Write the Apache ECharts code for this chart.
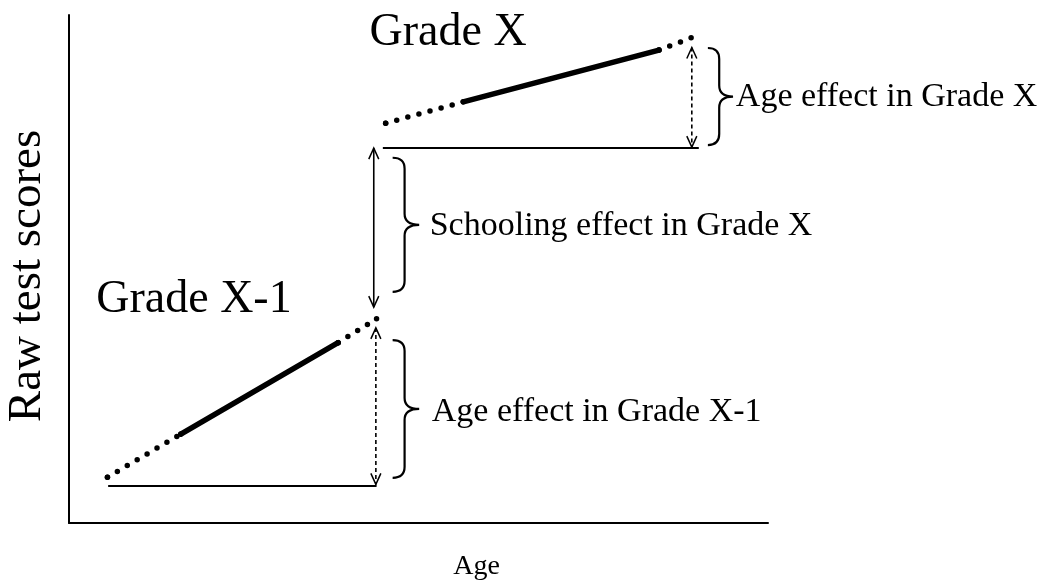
<!DOCTYPE html>
<html>
<head>
<meta charset="utf-8">
<title>Age and schooling effects</title>
<script src="https://cdn.jsdelivr.net/npm/echarts@6/dist/echarts.min.js"></script>
<style>
  html, body { margin: 0; padding: 0; background: #fff; }
  #chart { width: 1050px; height: 583px; }
</style>
</head>
<body>
<div id="chart"></div>
<script>
// grade X-1 line: dotted start, solid middle, dotted end
const lowerAges = [5.5, 16, 38.5, 44];
const lowerScores = [9, 17.5, 35.5, 40.2];
// grade X line
const upperAges = [45.3, 56.4, 84.4, 89];
const upperScores = [78.7, 82.9, 93.1, 95.5];

// horizontal reference lines
const baseAgesLower = [5.6, 44];
const baseScoreLower = 7.3;
const baseAgesUpper = [44.9, 90.1];
const baseScoreUpper = 73.8;

// double arrows (age, low score, high score, dashed?)
const arrowAges = [43.9, 43.6, 89.1];
const arrowLows = [7.6, 42.5, 74];
const arrowHighs = [38.4, 73.8, 93.6];
const arrowDashed = [1, 0, 1];

// braces (left edge, tip, top, bottom)
const braceLefts = [46.3, 46.3, 91.4];
const braceTips = [50.1, 50.1, 95.0];
const braceTops = [36.0, 71.9, 93.5];
const braceBottoms = [8.9, 45.5, 74.4];

// annotations
const noteTexts = ['Grade X', 'Grade X-1', 'Age effect in Grade X', 'Schooling effect in Grade X', 'Age effect in Grade X-1'];
const noteAges = [43.0, 3.9, 95.4, 51.6, 51.9];
const noteScores = [96.5, 43.9, 83.9, 58.5, 21.9];

const FONT = '"Liberation Serif", "DejaVu Serif", serif';

const pairs = (xs, ys) => xs.map((x, i) => [x, ys[i]]);

const dotted = {
  color: '#000',
  width: 5.5,
  type: [0, 11.5],
  cap: 'round',
};

const segment = (ages, scores, from, to, style, withDots) => ({
  type: 'line',
  data: pairs(ages.slice(from, to + 1), scores.slice(from, to + 1)),
  symbol: withDots ? 'circle' : 'none',
  symbolSize: 5.5,
  showSymbol: withDots,
  itemStyle: { color: '#000' },
  lineStyle: style,
  silent: true,
  z: 3,
});

const renderArrow = (params, api) => {
  const top = api.coord([api.value(0), api.value(2)]);
  const bottom = api.coord([api.value(0), api.value(1)]);
  const x = top[0];
  const dash = api.value(3) === 1 ? [4, 3] : null;
  const head = { stroke: '#000', fill: null, lineWidth: 1.5 };
  return {
    type: 'group',
    children: [
      { type: 'line', shape: { x1: x, y1: top[1], x2: x, y2: bottom[1] }, style: { stroke: '#000', lineWidth: 1.6, lineDash: dash } },
      { type: 'polyline', shape: { points: [[x - 5, top[1] + 11], [x, top[1]], [x + 5, top[1] + 11]] }, style: head },
      { type: 'polyline', shape: { points: [[x - 5, bottom[1] - 11], [x, bottom[1]], [x + 5, bottom[1] - 11]] }, style: head },
    ],
  };
};

const renderBrace = (params, api) => {
  const tl = api.coord([api.value(0), api.value(2)]);
  const br = api.coord([api.value(1), api.value(3)]);
  const xl = tl[0], xt = br[0], yt = tl[1], yb = br[1];
  const xv = xl + (xt - xl) * 0.45;
  const ym = (yt + yb) / 2;
  const r = 11;
  const d = `M${xl},${yt} Q${xv},${yt} ${xv},${yt + r} L${xv},${ym - r} Q${xv},${ym} ${xt},${ym}`
    + ` Q${xv},${ym} ${xv},${ym + r} L${xv},${yb - r} Q${xv},${yb} ${xl},${yb}`;
  return {
    type: 'path',
    shape: { pathData: d },
    style: { stroke: '#000', fill: null, lineWidth: 2.2 },
  };
};

const renderNote = (params, api) => {
  const p = api.coord([api.value(0), api.value(1)]);
  const big = params.dataIndex < 2;
  return {
    type: 'text',
    x: p[0],
    y: p[1],
    style: {
      text: noteTexts[params.dataIndex],
      fill: '#000',
      font: `${big ? 46 : 34}px ${FONT}`,
      align: 'left',
      verticalAlign: 'middle',
    },
  };
};

const chart = echarts.init(document.getElementById('chart'), null, { renderer: 'canvas' });

chart.setOption({
  animation: false,
  backgroundColor: '#fff',
  grid: { left: 69, right: 282, top: 15, bottom: 60, outerBoundsMode: 'none', containLabel: false },
  xAxis: {
    type: 'value',
    min: 0,
    max: 100,
    name: 'Age',
    nameLocation: 'middle',
    nameGap: 30,
    nameTextStyle: { color: '#000', fontFamily: FONT, fontSize: 28, padding: [0, 0, 0, 116] },
    axisLine: { show: true, onZero: false, lineStyle: { color: '#000', width: 2 } },
    axisTick: { show: false },
    axisLabel: { show: false },
    splitLine: { show: false },
  },
  yAxis: {
    type: 'value',
    min: 0,
    max: 100,
    name: 'Raw test scores',
    nameLocation: 'middle',
    nameRotate: 90,
    nameGap: 18,
    nameTextStyle: { color: '#000', fontFamily: FONT, fontSize: 47, padding: [0, 14, 0, 0] },
    axisLine: { show: true, onZero: false, lineStyle: { color: '#000', width: 2 } },
    axisTick: { show: false },
    axisLabel: { show: false },
    splitLine: { show: false },
  },
  series: [
    segment(lowerAges, lowerScores, 0, 1, dotted, true),
    segment(lowerAges, lowerScores, 1, 2, { color: '#000', width: 5.5, cap: 'round' }, false),
    segment(lowerAges, lowerScores, 2, 3, dotted, true),
    segment(upperAges, upperScores, 0, 1, dotted, true),
    segment(upperAges, upperScores, 1, 2, { color: '#000', width: 5.5, cap: 'round' }, false),
    segment(upperAges, upperScores, 2, 3, dotted, true),
    segment(baseAgesLower, [baseScoreLower, baseScoreLower], 0, 1, { color: '#000', width: 2 }, false),
    segment(baseAgesUpper, [baseScoreUpper, baseScoreUpper], 0, 1, { color: '#000', width: 2 }, false),
    {
      type: 'custom',
      renderItem: renderArrow,
      data: arrowAges.map((a, i) => [a, arrowLows[i], arrowHighs[i], arrowDashed[i]]),
      silent: true,
      z: 4,
    },
    {
      type: 'custom',
      renderItem: renderBrace,
      data: braceLefts.map((l, i) => [l, braceTips[i], braceTops[i], braceBottoms[i]]),
      silent: true,
      z: 4,
    },
    {
      type: 'custom',
      renderItem: renderNote,
      data: pairs(noteAges, noteScores),
      clip: false,
      silent: true,
      z: 5,
    },
  ],
});

window.addEventListener('resize', () => chart.resize());
</script>
</body>
</html>
